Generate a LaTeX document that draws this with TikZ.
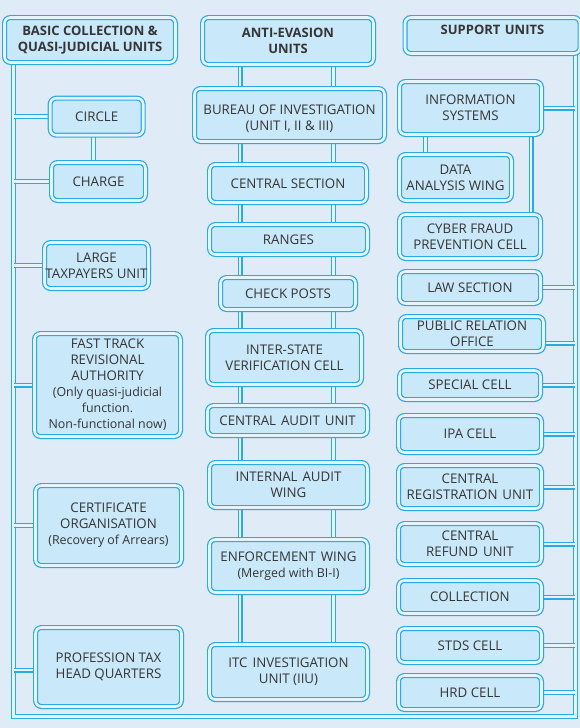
\documentclass[tikz,border=0pt]{standalone}
\usepackage{fontspec}
\setmainfont{Open Sans}
\usetikzlibrary{calc}
\definecolor{bgc}{HTML}{DFECF8}
\definecolor{boxc}{HTML}{C9E8F9}
\definecolor{strk}{HTML}{2AAAE2}
\definecolor{gapc}{HTML}{E4F3FC}
\definecolor{txt}{HTML}{363535}
\pgfdeclarelayer{bgfill}
\pgfdeclarelayer{conns}
\pgfsetlayers{bgfill,conns,main}
\newcommand\lc[1]{{\fontsize{12.4}{16}\selectfont #1}}
\newcommand\wsp{\ \hspace{1.5pt}}
\tikzset{
  box/.style={draw=strk, double=gapc, double distance=2.6pt, line width=1.2pt,
    fill=boxc, rounded corners=6pt, align=center, inner sep=0pt, text=txt,
    font=\fontsize{13.3}{16}\selectfont},
  hdr/.style={font=\bfseries\fontsize{13}{16}\selectfont},
  conn/.style={draw=strk, double=gapc, double distance=2.8pt, line width=1.1pt},
}
\begin{document}
\begin{tikzpicture}[x=1pt,y=-1pt]
\useasboundingbox (0,0) rectangle (580,728);
\begin{pgfonlayer}{bgfill}
  \fill[bgc] (0,0) rectangle (580,728);
\end{pgfonlayer}

% trunk coordinates
\coordinate (LB) at (13.5,716.5);
\coordinate (RB) at (575.3,716.5);
\coordinate (mA) at (240,0);
\coordinate (mB) at (333.5,0);
\coordinate (xC) at (93.3,0);
\coordinate (xD) at (425.5,0);
\coordinate (xE) at (531,0);

% headers
\node[box,hdr,minimum width=171pt,minimum height=45pt] (hL) at (90,40) {BASIC COLLECTION \&\\QUASI-JUDICIAL UNITS};
\node[box,hdr,minimum width=171pt,minimum height=47pt] (hM) at (288,41) {ANTI-EVASION\\UNITS};
\node[box,hdr,minimum width=175pt,minimum height=36pt,text height=9.5pt,text depth=12pt] (hR) at (492.5,35.5) {SUPPORT\hspace{1pt} UNITS};

% left column
\node[box,minimum width=93pt,minimum height=37pt] (circle) at (96.7,116.7) {CIRCLE};
\node[box,minimum width=94pt,minimum height=38pt] (charge) at (98.5,181.5) {CHARGE};
\node[box,minimum width=104pt,minimum height=46pt] (ltu) at (96.5,265.5) {LARGE\\TAXPAYERS UNIT};
\node[box,minimum width=146pt,minimum height=103pt] (fast) at (107.5,385) {FAST TRACK\\REVISIONAL\\AUTHORITY\\\lc{(Only quasi-judicial}\\\lc{function.}\\\lc{Non-functional now)}};
\node[box,minimum width=146pt,minimum height=80pt] (cert) at (108.5,525.5) {CERTIFICATE\\ORGANISATION\\\lc{(Recovery of Arrears)}};
\node[box,minimum width=146pt,minimum height=79pt] (prof) at (108.5,667) {PROFESSION TAX\\HEAD QUARTERS};

% middle column
\node[box,minimum width=190pt,minimum height=53pt] (bi) at (289.5,115) {\rule{0pt}{18pt}BUREAU OF INVESTIGATION\\(UNIT I, II \& III)};
\node[box,minimum width=157pt,minimum height=38pt] (cs) at (288,183.5) {CENTRAL SECTION};
\node[box,minimum width=158pt,minimum height=30pt] (rg) at (288.5,239.5) {RANGES};
\node[box,minimum width=135pt,minimum height=32pt] (cp) at (288,293.5) {CHECK POSTS};
\node[box,minimum width=154pt,minimum height=54pt] (isv) at (284.5,357.5) {INTER-STATE\\VERIFICATION CELL};
\node[box,minimum width=160pt,minimum height=30pt] (cau) at (287.5,420.5) {CENTRAL\wsp AUDIT\wsp UNIT};
\node[box,minimum width=158pt,minimum height=45pt] (iaw) at (288.5,485) {INTERNAL\wsp AUDIT\\WING};
\node[box,minimum width=158pt,minimum height=53pt] (ew) at (288.5,566) {ENFORCEMENT\wsp WING\\\lc{(Merged with BI-I)}};
\node[box,minimum width=158pt,minimum height=55pt] (itc) at (288.5,672) {ITC\wsp INVESTIGATION\\UNIT (IIU)};

% right column
\node[box,minimum width=142pt,minimum height=53pt] (info) at (470.5,108) {INFORMATION\\SYSTEMS};
\node[box,minimum width=112pt,minimum height=46pt] (data) at (455.5,177.5) {DATA\\ANALYSIS WING};
\node[box,minimum width=141pt,minimum height=44pt] (cyber) at (470,236.5) {CYBER FRAUD\\PREVENTION CELL};
\node[box,minimum width=141pt,minimum height=32pt] (law) at (470,287.5) {LAW SECTION};
\node[box,minimum width=143pt,minimum height=35pt] (pro) at (472,334) {PUBLIC RELATION\\OFFICE};
\node[box,minimum width=141pt,minimum height=29pt] (spc) at (470,385) {SPECIAL CELL};
\node[box,minimum width=143pt,minimum height=37pt] (ipa) at (470,434) {IPA CELL};
\node[box,minimum width=143pt,minimum height=43pt] (cru) at (470,487) {CENTRAL\\REGISTRATION\wsp UNIT};
\node[box,minimum width=143pt,minimum height=41pt] (cref) at (470,544) {CENTRAL\\REFUND\wsp UNIT};
\node[box,minimum width=143pt,minimum height=33pt] (coll) at (470,597) {COLLECTION};
\node[box,minimum width=143pt,minimum height=34pt] (stds) at (470,645.5) {STDS CELL};
\node[box,minimum width=143pt,minimum height=34pt] (hrd) at (470,692.5) {HRD CELL};

\begin{pgfonlayer}{conns}
  % outer frame trunk
  \draw[conn] (hL.south -| LB) -- (LB) -- (RB) -- (hR.south -| RB);
  % left branches
  \foreach \n in {circle,charge,ltu,fast,cert}
    \draw[conn] (\n.west -| LB) -- (\n.west);
  \draw[conn] ([yshift=-3pt]prof.west -| LB) -- ([yshift=-3pt]prof.west);
  \draw[conn] (circle.south -| xC) -- (charge.north -| xC);
  % middle chain
  \foreach \a/\b in {hM/bi,bi/cs,cs/rg,rg/cp,cp/isv,isv/cau,cau/iaw,iaw/ew,ew/itc}{
    \draw[conn] (\a.south -| mA) -- (\b.north -| mA);
    \draw[conn] (\a.south -| mB) -- (\b.north -| mB);
  }
  % right branches
  \foreach \n in {info,law,spc,ipa,cru,cref,coll,stds,hrd}
    \draw[conn] (\n.east) -- (\n.east -| RB);
  \draw[conn] ([yshift=-9pt]pro.east) -- ([yshift=-9pt]pro.east -| RB);
  \draw[conn] (info.south -| xD) -- (data.north -| xD);
  \draw[conn] (info.south -| xE) -- (cyber.north -| xE);
\end{pgfonlayer}
\end{tikzpicture}
\end{document}
